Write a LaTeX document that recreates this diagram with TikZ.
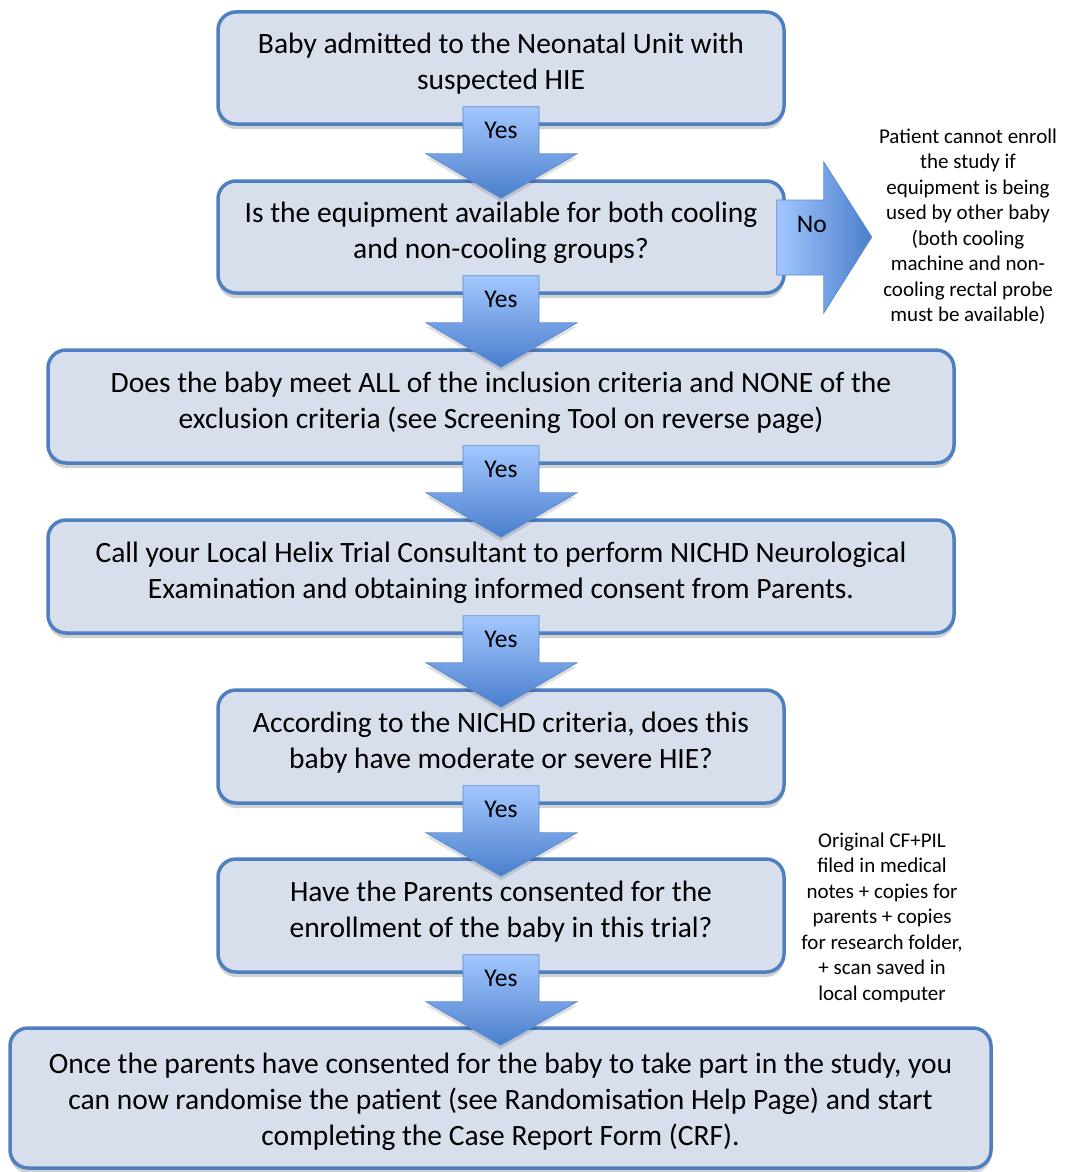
\documentclass[tikz,border=0pt]{standalone}
\usepackage{fontspec}
\setmainfont{Carlito}
\usetikzlibrary{shadows,calc}
\definecolor{boxfill}{HTML}{D7DEEC}
\definecolor{boxline}{HTML}{4E7FC0}
\definecolor{arrlight}{HTML}{A3C7FF}
\definecolor{arrdark}{HTML}{4A7FCC}
\definecolor{arrline}{HTML}{5C8CD2}
\tikzset{
  stepbox/.style={draw=boxline, line width=3.5pt, fill=boxfill, rounded corners=18pt,
    inner sep=0pt,
    drop shadow={shadow xshift=0pt, shadow yshift=-5pt, opacity=0.18, fill=black}},
  boxtext/.style={align=center, font=\fontsize{29.5}{36}\selectfont, text=black, inner sep=0pt},
  downarrow/.style={draw=arrline, line width=0.8pt, top color=arrlight, bottom color=arrdark,
    drop shadow={shadow xshift=0pt, shadow yshift=-4pt, opacity=0.12, fill=black}},
  rightarrow/.style={draw=arrline, line width=0.8pt, left color=arrlight, right color=arrdark},
  yeslabel/.style={font=\fontsize{25.5}{30}\selectfont, text=black, inner sep=0pt},
  notetext/.style={font=\fontsize{21}{25.5}\selectfont, align=center, text=black, inner sep=0pt},
}
\begin{document}
\begin{tikzpicture}[x=1pt,y=-1pt]
\useasboundingbox (0,0) rectangle (1068,1172);

\node[stepbox, minimum width=566pt, minimum height=112pt] (b1) at (501,68) {};
\node[boxtext] (t1) at ($(b1.center)+(0,-4)$)
  {Baby admitted to the Neonatal Unit with\\suspected HIE};
\node[stepbox, minimum width=566pt, minimum height=112pt] (b2) at (501,237) {};
\node[boxtext] (t2) at ($(b2.center)+(0,-4)$)
  {Is the equipment available for both cooling\\and non-cooling groups?};
\node[stepbox, minimum width=906pt, minimum height=113pt] (b3) at (501,406.5) {};
\node[boxtext] (t3) at ($(b3.center)+(0,-4)$)
  {Does the baby meet ALL of the inclusion criteria and NONE of the\\exclusion criteria (see Screening Tool on reverse page)};
\node[stepbox, minimum width=906pt, minimum height=113pt] (b4) at (501,576.5) {};
\node[boxtext] (t4) at ($(b4.center)+(0,-4)$)
  {Call your Local Helix Trial Consultant to perform NICHD Neurological\\Examination and obtaining informed consent from Parents.};
\node[stepbox, minimum width=566pt, minimum height=113pt] (b5) at (501,746.5) {};
\node[boxtext] (t5) at ($(b5.center)+(0,-4)$)
  {According to the NICHD criteria, does this\\baby have moderate or severe HIE?};
\node[stepbox, minimum width=566pt, minimum height=113pt] (b6) at (501,915.5) {};
\node[boxtext] (t6) at ($(b6.center)+(0,-4)$)
  {Have the Parents consented for the\\enrollment of the baby in this trial?};
\node[stepbox, minimum width=981pt, minimum height=140pt] (b7) at (500.5,1098) {};
\node[boxtext] (t7) at ($(b7.center)+(0,4)$)
  {Once the parents have consented for the baby to take part in the study, you\\can now randomise the patient (see Randomisation Help Page) and start\\completing the Case Report Form (CRF).};

% down arrows between consecutive boxes
\foreach \a/\b in {b1/b2,b2/b3,b3/b4,b4/b5,b5/b6,b6/b7}{
  \path[downarrow]
    ($(\a.south)+(-38,-19)$) -- ($(\a.south)+(38,-19)$) -- ($(\a.south)+(38,28)$)
    -- ($(\a.south)+(76,28)$) -- ($(\b.north)+(0,19)$) -- ($(\a.south)+(-75,28)$)
    -- ($(\a.south)+(-38,28)$) -- cycle;
  \node[yeslabel] (yes\a) at ($(\a.south)+(0,5)$) {Yes};
}

% No arrow
\coordinate (nobase) at ($(b2.east)+(-9,0)$);
\path[rightarrow]
  ($(nobase)+(0,-37)$) -- ($(nobase)+(47,-37)$) -- ($(nobase)+(47,-75)$)
  -- ($(nobase)+(95,0)$) -- ($(nobase)+(47,76)$) -- ($(nobase)+(47,38)$)
  -- ($(nobase)+(0,38)$) -- cycle;
\node[yeslabel] (nolabel) at ($(nobase)+(35,-13)$) {No};

\node[notetext] (note1) at (968,226.5)
  {Patient cannot enroll\\the study if\\equipment is being\\used by other baby\\(both cooling\\machine and non-\\cooling rectal probe\\must be available)};

\begin{scope}
\clip (780,820) rectangle (990,1001);
\node[notetext] (note2) at (882,918)
  {Original CF+PIL\\filed in medical\\notes + copies for\\parents + copies\\for research folder,\\+ scan saved in\\local computer};
\end{scope}
\end{tikzpicture}
\end{document}
